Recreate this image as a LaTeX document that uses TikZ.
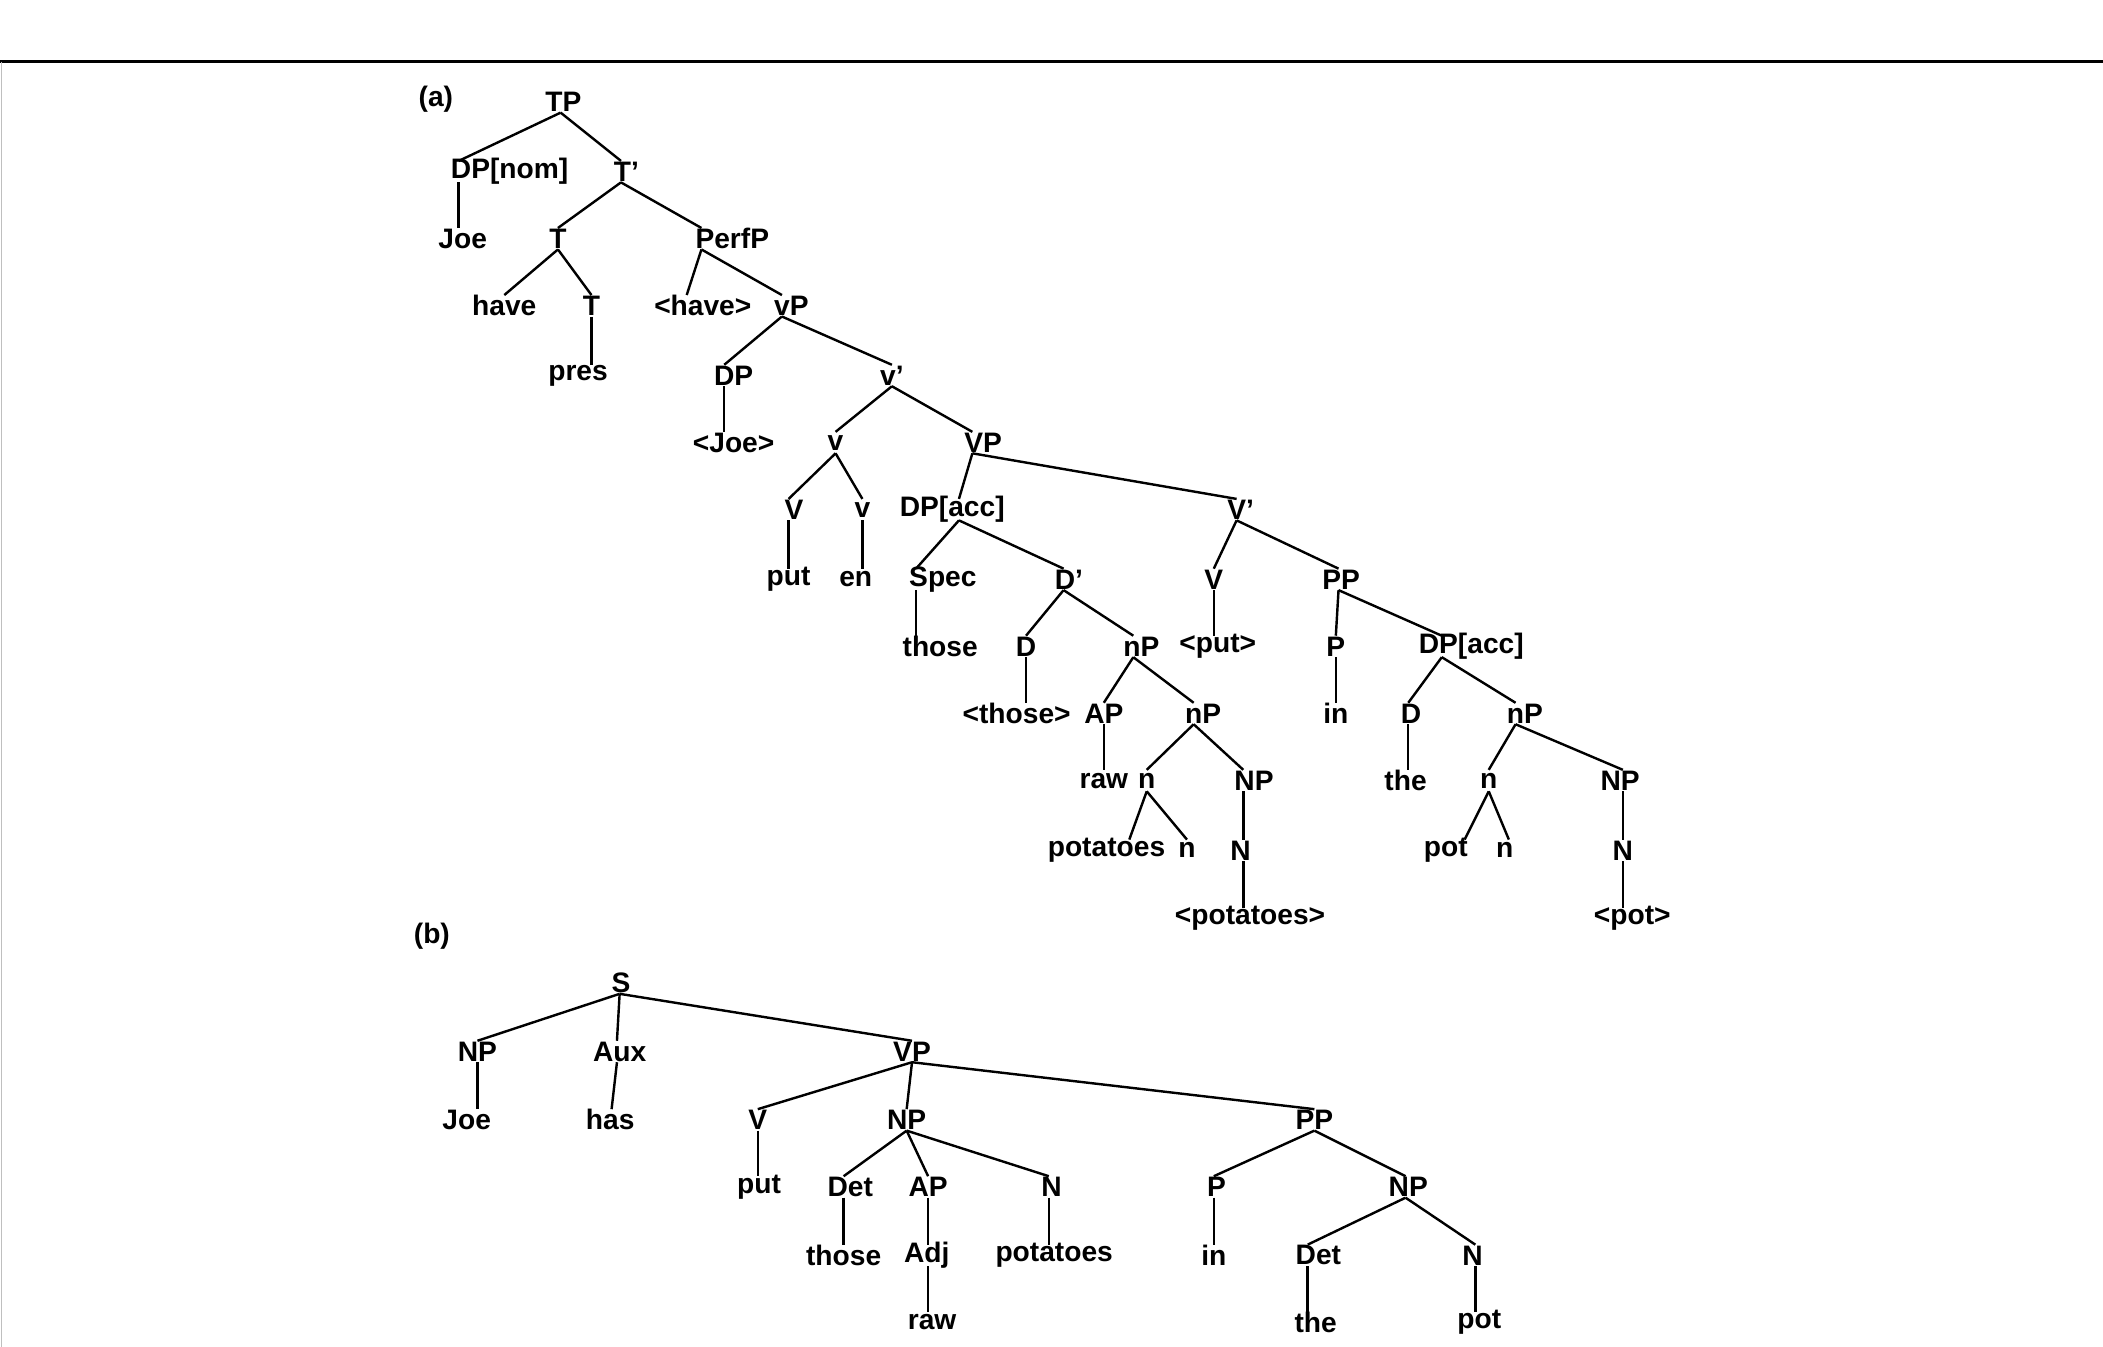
\documentclass[tikz,border=0pt]{standalone}
\usepackage{fontspec}
\setmainfont{Liberation Sans}
\begin{document}
\begin{tikzpicture}[x=0.5pt,y=-0.5pt,
  lab/.style={inner sep=0.5pt,font=\bfseries\fontsize{10.5}{12}\selectfont},
  edge/.style={line width=0.9pt}]
\useasboundingbox (0,0) rectangle (1568,1004);
\draw[line width=0.9pt] (0,46) -- (1568,46);
\draw[line width=0.4pt,black!25] (1,46) -- (1,1004);
\node[lab] (la) at (325,74) {(a)};
\node[lab] (lb) at (322,698) {(b)};
\foreach \n/\x/\y/\ax/\t in {
 TP/420/76/418/TP, DPn/380/128/342/DP[nom], Tb/467/128/463/T',
 Joe/345/178/342/Joe, T1/416/178/416/T, PerfP/546/178/523/PerfP,
 have/376/228/376/have, T2/441/228/441/T, ahave/524/228/512/<have>, vP/590/228/583/vP,
 pres/431/280/441/pres, DP/547/280/540/DP, vb/665/280/665/v',
 aJoe/547/330/540/<Joe>, v1/623/330/623/v, VP/733/330/725/VP,
 V1/592/380/588/V, v2/643/380/643/v, DPa/710/380/715/DP[acc], Vb/925/380/922/V',
 put/588/432/588/put, en/638/432/643/en, Spec/703/432/683/Spec, Db/797/432/793/D', V2/905/432/905/V, PP/1000/432/998/PP,
 those/701/482/683/those, D1/765/482/765/D, nP1/851/482/845/nP, aput/908/482/905/<put>, P/996/482/996/P, DPa2/1097/482/1075/DP[acc],
 athose/758/532/765/<those>, AP/823/532/823/AP, nP2/897/532/890/nP, in/996/532/996/in, D2/1052/532/1050/D, nP3/1137/532/1130/nP,
 raw/823/582/823/raw, n1/855/582/855/n, NP1/935/582/927/NP, the/1048/582/1050/the, n2/1110/582/1110/n, NP2/1208/582/1210/NP,
 potatoes/825/634/842/potatoes, n3/885/634/885/n, N1/925/634/927/N, pot/1078/634/1092/pot, n4/1122/634/1125/n, N2/1210/634/1210/N,
 apot1/932/685/927/<potatoes>, apot2/1217/685/1210/<pot>,
 S/463/733/462/S, bNP/356/784/356/NP, Aux/462/784/460/Aux, bVP/680/784/680/VP,
 bJoe/348/835/356/Joe, has/455/835/456/has, bV/565/835/565/V, bNP2/676/835/676/NP, bPP/980/835/980/PP,
 bput/566/885/565/put, Det/634/885/629/Det, bAP/692/885/692/AP, bN/784/885/782/N, bP/907/885/905/P, bNP3/1050/885/1048/NP,
 bthose/629/936/629/those, Adj/691/936/692/Adj, bpotatoes/786/936/782/potatoes, bin/905/936/905/in, Det2/983/936/975/Det, bN2/1098/936/1100/N,
 braw/695/986/692/raw, bthe/981/986/975/the, bpot/1103/986/1100/pot}
 {\node[lab] (\n) at (\x,\y) {\t};
  \coordinate (\n-t) at (\ax,\y-8);
  \coordinate (\n-b) at (\ax,\y+8);}
\foreach \a/\b in {TP/DPn, TP/Tb, DPn/Joe, Tb/T1, Tb/PerfP, T1/have, T1/T2, T2/pres,
 PerfP/ahave, PerfP/vP, vP/DP, vP/vb, DP/aJoe, vb/v1, vb/VP, v1/V1, v1/v2, V1/put, v2/en,
 VP/DPa, VP/Vb, DPa/Spec, DPa/Db, Spec/those, Db/D1, Db/nP1, D1/athose, nP1/AP, nP1/nP2,
 AP/raw, nP2/n1, nP2/NP1, n1/potatoes, n1/n3, NP1/N1, N1/apot1,
 Vb/V2, Vb/PP, V2/aput, PP/P, PP/DPa2, P/in, DPa2/D2, DPa2/nP3, D2/the, nP3/n2, nP3/NP2,
 n2/pot, n2/n4, NP2/N2, N2/apot2,
 S/bNP, S/Aux, S/bVP, bNP/bJoe, Aux/has, bVP/bV, bVP/bNP2, bVP/bPP, bV/bput,
 bNP2/Det, bNP2/bAP, bNP2/bN, Det/bthose, bAP/Adj, Adj/braw, bN/bpotatoes,
 bPP/bP, bPP/bNP3, bP/bin, bNP3/Det2, bNP3/bN2, Det2/bthe, bN2/bpot}
 \draw[edge] (\a-b) -- (\b-t);
\end{tikzpicture}
\end{document}
